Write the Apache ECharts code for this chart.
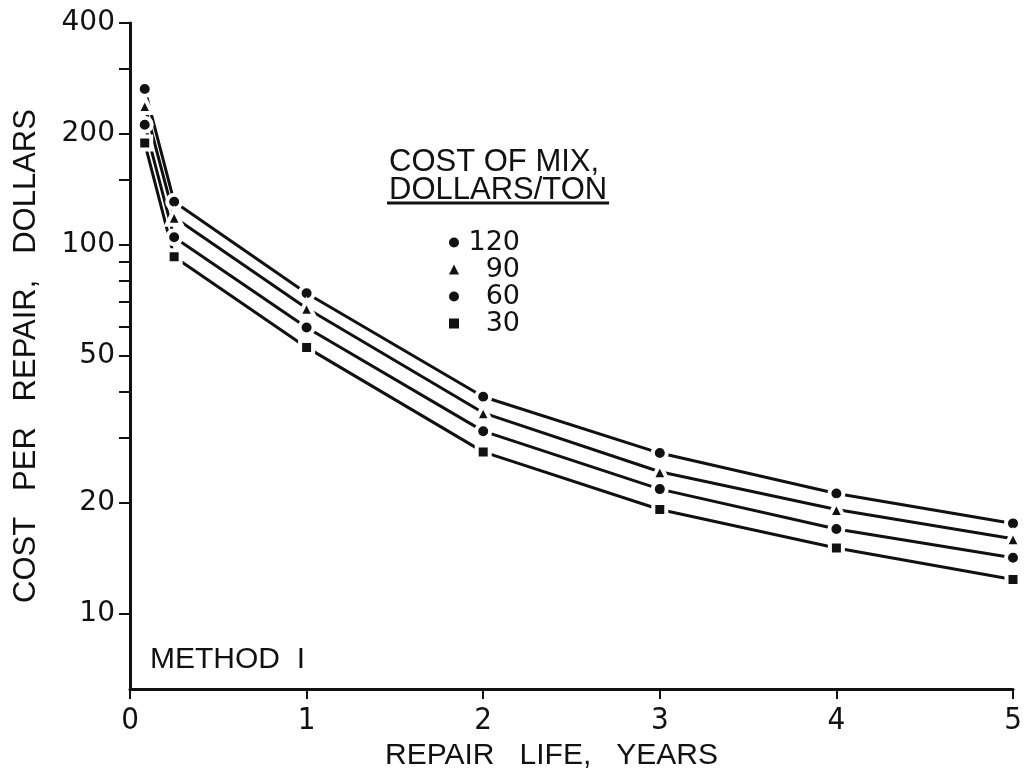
<!DOCTYPE html>
<html><head><meta charset="utf-8">
<script src="https://cdn.jsdelivr.net/npm/echarts@6/dist/echarts.min.js"></script>
<style>html,body{margin:0;padding:0;background:#fff}#c{width:1025px;height:776px}</style>
</head><body><div id="c"></div>
<script>
// Repair life (years) and cost per repair (dollars) for each cost of mix
const years = [1/12, 0.25, 1, 2, 3, 4, 5];
const cost120 = [265, 131, 74, 38.8, 27.3, 21.2, 17.6];
const cost90  = [239, 119, 67.4, 35.1, 24.3, 19.2, 16.0];
const cost60  = [212, 105, 59.8, 31.3, 21.8, 17.0, 14.2];
const cost30  = [189, 93, 52.8, 27.5, 19.2, 15.1, 12.4];
const seriesNames = ['120', '90', '60', '30'];
const yTickValues = [400, 300, 200, 150, 100, 90, 80, 70, 60, 50, 40, 30, 20, 10];
const yLabelValues = [400, 200, 100, 50, 20, 10];
const xLabels = ['0', '1', '2', '3', '4', '5'];

const INK = '#111';
const labelFont = "'DejaVu Sans', sans-serif";
const letterFont = "'Liberation Sans', Arial, sans-serif";
const narrowFont = "'Liberation Sans Narrow', 'DejaVu Sans Condensed', 'Liberation Sans', sans-serif";

function pairs(vals) { return years.map((x, i) => [x, vals[i]]); }
const allVals = [cost120, cost90, cost60, cost30];
const symbols = ['circle', 'triangle', 'circle', 'rect'];
const sizes = [14, 15, 14, 13];

const chart = echarts.init(document.getElementById('c'));
chart.setOption({
  backgroundColor: '#fff',
  animation: false,
  grid: { left: 130, right: 12, top: 23, bottom: 87, containLabel: false },
  title: {
    text: 'COST OF MIX,\nDOLLARS/TON',
    left: 389, top: 148, padding: 0,
    textStyle: { fontFamily: letterFont, fontSize: 31, fontWeight: 'normal', color: INK, lineHeight: 28 }
  },
  legend: {
    orient: 'vertical',
    left: 444, top: 224,
    itemWidth: 10, itemHeight: 10,
    itemGap: 0,
    data: seriesNames.map((n, i) => ({ name: n, icon: symbols[i] })),
    formatter: '{a|{name}}',
    textStyle: {
      color: INK,
      rich: { a: { fontFamily: labelFont, fontSize: 27, width: 56, align: 'right', lineHeight: 27, color: INK } }
    },
    itemStyle: { color: INK, borderWidth: 0 }
  },
  graphic: [
    { type: 'line', shape: { x1: 387, y1: 203, x2: 609, y2: 203 }, style: { stroke: INK, lineWidth: 3 } },
    { type: 'text', left: 150, top: 645, style: { text: 'METHOD  I', fill: INK, font: "30px 'Liberation Sans', sans-serif" } }
  ],
  xAxis: {
    type: 'value', min: 0, max: 5, interval: 1,
    name: 'REPAIR   LIFE,   YEARS', nameLocation: 'middle', nameGap: 50,
    nameTextStyle: { fontFamily: letterFont, fontSize: 30, color: INK, padding: [0, 40, 0, 0] },
    axisLine: { show: true, lineStyle: { color: INK, width: 3 } },
    axisTick: { show: true, inside: false, length: 10, lineStyle: { color: INK, width: 2 } },
    axisLabel: { margin: 16, fontFamily: narrowFont, fontSize: 31, color: INK, formatter: v => xLabels[Math.round(v)] },
    splitLine: { show: false }
  },
  yAxis: {
    type: 'log', logBase: 10, min: 6.26, max: 400,
    name: 'COST   PER   REPAIR,   DOLLARS', nameLocation: 'middle', nameGap: 88, nameRotate: 90,
    nameTextStyle: { fontFamily: letterFont, fontSize: 31, color: INK },
    axisLine: { show: true, lineStyle: { color: INK, width: 3 } },
    axisTick: { show: true, inside: false, length: 11, customValues: yTickValues, lineStyle: { color: INK, width: 2 } },
    axisLabel: { margin: 15, fontFamily: labelFont, fontSize: 28, color: INK, customValues: yLabelValues },
    splitLine: { show: false }, minorTick: { show: false }
  },
  series: seriesNames.map((n, i) => ({
    name: n, type: 'line', data: pairs(allVals[i]),
    symbol: symbols[i], symbolSize: sizes[i],
    lineStyle: { color: INK, width: 3 },
    itemStyle: { color: INK, borderColor: '#fff', borderWidth: 4 },
    emphasis: { disabled: true },
    z: 2
  }))
});
</script></body></html>
